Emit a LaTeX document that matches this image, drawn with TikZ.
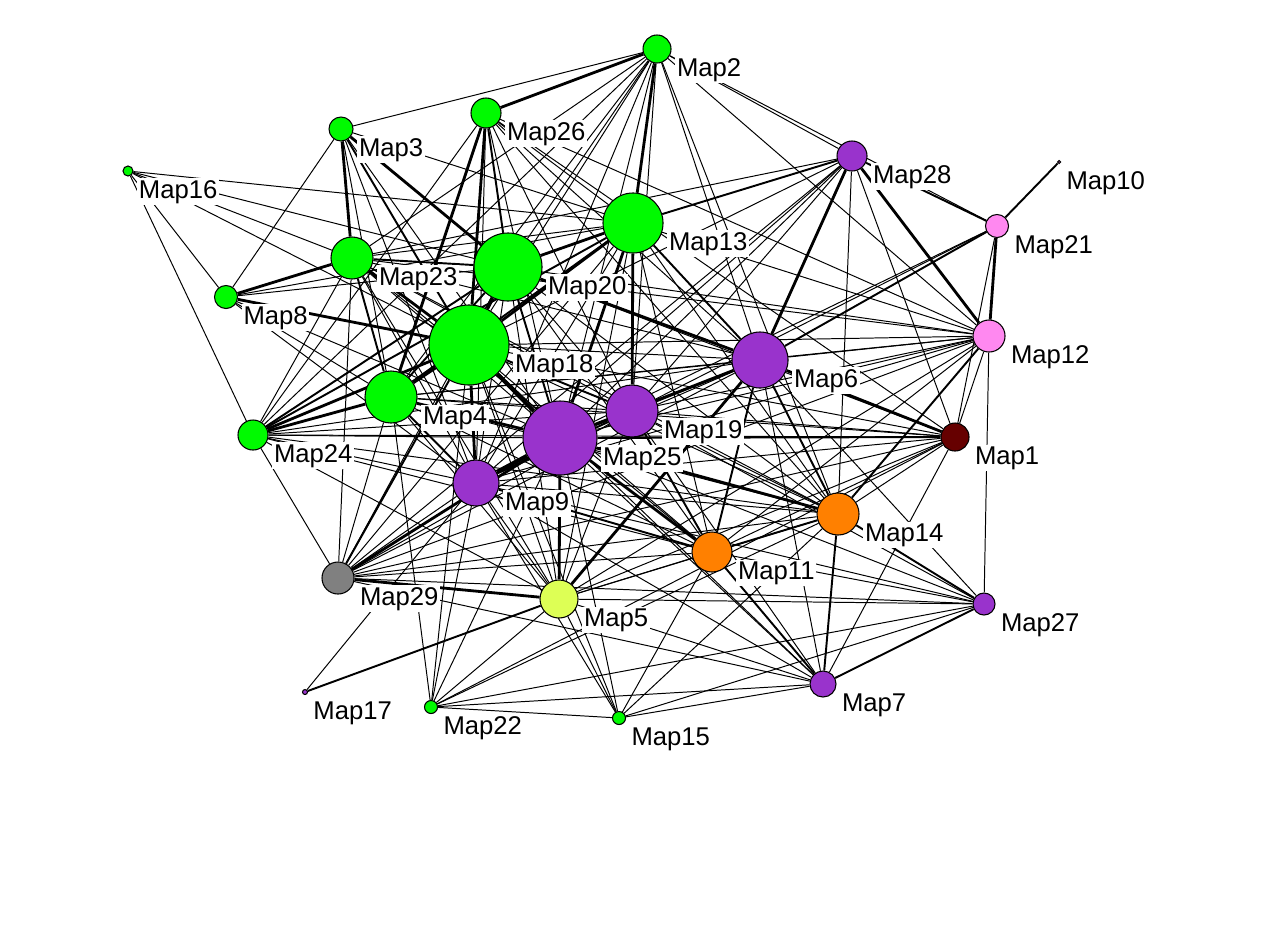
\documentclass[tikz,border=0pt]{standalone}
\usepackage{fontspec}
\newfontfamily\mapfont{Liberation Sans}
\usetikzlibrary{backgrounds}

\definecolor{mapgreen}{RGB}{0,250,0}
\definecolor{mappurple}{RGB}{153,51,204}
\definecolor{maporange}{RGB}{255,128,0}
\definecolor{mappink}{RGB}{255,136,240}
\definecolor{mapred}{RGB}{102,0,0}
\definecolor{mapgray}{RGB}{128,128,128}
\definecolor{mapyellow}{RGB}{221,255,85}

\tikzset{
	mapnode/.style={circle, draw=black, line width=0.3pt, inner sep=0pt},
	maplabel/.style={anchor=base west, fill=white, inner sep=0.5pt, font=\mapfont\fontsize{7.3}{8}\selectfont},
	w1/.style={line width=0.28pt},
	w2/.style={line width=0.55pt},
	w3/.style={line width=0.8pt},
	w4/.style={line width=1.1pt}
}

\begin{document}
\begin{tikzpicture}[x=0.01cm, y=-0.01cm]
	\useasboundingbox (0,0) rectangle (1280,948);
	% nodes, sized by pixel radius
	\node[mapnode, fill=mapred, minimum size=2.8mm] (m1) at (955,437) {};
	\node[mapnode, fill=mapgreen, minimum size=2.8mm] (m2) at (657,49) {};
	\node[mapnode, fill=mapgreen, minimum size=2.4mm] (m3) at (341,129) {};
	\node[mapnode, fill=mapgreen, minimum size=5.2mm] (m4) at (391,397) {};
	\node[mapnode, fill=mapyellow, minimum size=3.8mm] (m5) at (559,599) {};
	\node[mapnode, fill=mappurple, minimum size=5.6mm] (m6) at (760,360) {};
	\node[mapnode, fill=mappurple, minimum size=2.6mm] (m7) at (823,684) {};
	\node[mapnode, fill=mapgreen, minimum size=2.3mm] (m8) at (226,297) {};
	\node[mapnode, fill=mappurple, minimum size=4.6mm] (m9) at (476,483) {};
	\node[mapnode, fill=mappink, minimum size=0.3mm] (m10) at (1059,162) {};
	\node[mapnode, fill=maporange, minimum size=4.0mm] (m11) at (712,552) {};
	\node[mapnode, fill=mappink, minimum size=3.2mm] (m12) at (989,336) {};
	\node[mapnode, fill=mapgreen, minimum size=6.0mm] (m13) at (633,223) {};
	\node[mapnode, fill=maporange, minimum size=4.2mm] (m14) at (838,514) {};
	\node[mapnode, fill=mapgreen, minimum size=1.3mm] (m15) at (619,718) {};
	\node[mapnode, fill=mapgreen, minimum size=1.0mm] (m16) at (128,171) {};
	\node[mapnode, fill=mappurple, minimum size=0.5mm] (m17) at (305,692) {};
	\node[mapnode, fill=mapgreen, minimum size=8.0mm] (m18) at (469,345) {};
	\node[mapnode, fill=mappurple, minimum size=5.2mm] (m19) at (632,411) {};
	\node[mapnode, fill=mapgreen, minimum size=6.8mm] (m20) at (508,267) {};
	\node[mapnode, fill=mappink, minimum size=2.3mm] (m21) at (997,226) {};
	\node[mapnode, fill=mapgreen, minimum size=1.3mm] (m22) at (431,707) {};
	\node[mapnode, fill=mapgreen, minimum size=4.2mm] (m23) at (352,258) {};
	\node[mapnode, fill=mapgreen, minimum size=3.0mm] (m24) at (253,435) {};
	\node[mapnode, fill=mappurple, minimum size=7.4mm] (m25) at (560,438) {};
	\node[mapnode, fill=mapgreen, minimum size=3.0mm] (m26) at (486,113) {};
	\node[mapnode, fill=mappurple, minimum size=2.2mm] (m27) at (984,604) {};
	\node[mapnode, fill=mappurple, minimum size=3.0mm] (m28) at (852,156) {};
	\node[mapnode, fill=mapgray, minimum size=3.2mm] (m29) at (338,578) {};

	% ties
	\begin{scope}[on background layer]
		\foreach \a/\b in {m16/m13, m16/m20, m16/m18, m16/m23, m16/m24, m16/m8,
			m3/m2, m3/m8, m3/m9, m3/m25, m3/m13, m3/m4,
			m2/m23, m2/m20, m2/m18, m2/m4, m2/m25, m2/m9, m2/m24, m2/m19, m2/m6, m2/m14, m2/m12, m2/m21, m2/m28,
			m26/m24, m26/m6, m26/m1, m26/m14, m26/m25, m26/m9, m26/m13, m26/m19, m26/m12,
			m28/m23, m28/m29, m28/m9, m28/m25, m28/m19, m28/m14, m28/m1, m28/m18,
			m21/m19, m21/m25, m21/m1,
			m12/m6, m12/m20, m12/m23, m12/m18, m12/m19, m12/m9, m12/m1, m12/m27, m12/m13, m12/m25, m12/m29, m12/m4,
			m1/m24, m1/m18, m1/m4, m1/m29, m1/m5, m1/m11, m1/m22, m1/m7, m1/m9, m1/m19, m1/m20,
			m6/m24, m6/m4, m6/m9, m6/m29, m6/m27, m6/m7, m6/m23, m6/m18,
			m8/m20, m8/m13, m8/m25, m8/m9, m8/m4,
			m24/m23, m24/m19, m24/m25, m24/m9, m24/m5, m24/m11, m24/m29, m24/m14,
			m17/m9, m29/m4, m29/m9, m29/m19, m29/m20, m29/m13, m29/m11, m29/m14, m29/m27, m29/m23,
			m22/m4, m22/m18, m22/m15, m22/m7, m22/m27, m22/m14, m22/m25, m22/m9, m22/m5,
			m15/m18, m15/m25, m15/m5, m15/m14, m15/m27, m15/m7, m15/m9, m15/m11,
			m5/m18, m5/m4, m5/m9, m5/m20, m5/m19, m5/m23, m5/m11, m5/m14, m5/m27, m5/m12, m5/m7, m5/m13,
			m27/m11, m27/m9, m27/m19, m27/m25,
			m7/m25, m7/m19, m7/m9, m7/m29, m7/m18,
			m14/m1, m14/m9, m14/m19, m14/m18, m14/m4, m14/m20, m14/m13, m14/m23,
			m11/m12, m11/m13, m11/m18, m11/m4, m11/m20, m11/m23,
			m23/m25, m23/m9, m23/m13, m23/m19, m20/m9, m20/m19, m13/m9, m4/m19}
			\draw[w1] (\a) -- (\b);
		\foreach \a/\b in {m17/m5, m27/m7, m27/m14, m14/m7, m11/m7, m28/m21, m21/m10, m21/m6,
			m1/m25, m14/m12, m14/m6, m11/m6, m14/m11, m9/m11, m13/m6, m28/m13, m24/m20,
			m29/m18, m23/m20, m23/m4, m4/m9, m19/m9, m20/m25, m19/m11, m4/m20, m18/m19,
			m6/m19, m13/m4, m3/m18, m26/m20, m24/m13}
			\draw[w2] (\a) -- (\b);
		\foreach \a/\b in {m26/m2, m3/m23, m26/m4, m26/m18, m3/m20, m8/m23, m8/m18, m24/m4,
			m24/m18, m29/m25, m29/m5, m5/m25, m5/m6, m28/m6, m28/m12, m21/m12, m1/m6,
			m25/m14, m13/m19, m20/m6, m2/m13, m23/m18, m4/m25, m18/m9, m19/m25, m13/m25,
			m13/m18, m25/m11, m25/m6, m13/m20}
			\draw[w3] (\a) -- (\b);
		\foreach \a/\b in {m18/m25, m9/m25, m18/m4, m20/m18}
			\draw[w4] (\a) -- (\b);
	\end{scope}

	% labels
	\foreach \n in {1,...,29}
		\node[maplabel] (l\n) at ([shift={(3,27)}]m\n.east) {Map\n};
\end{tikzpicture}
\end{document}
